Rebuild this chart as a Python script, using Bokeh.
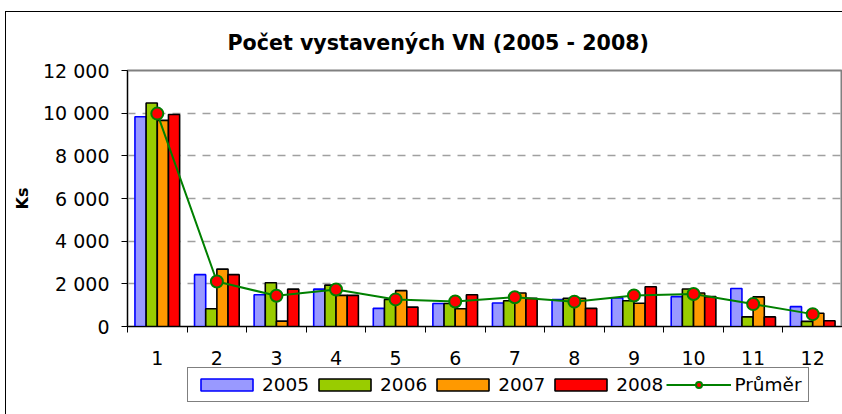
import numpy as np
from bokeh.plotting import figure
from bokeh.layouts import column
from bokeh.models import Range1d, FixedTicker, Legend, LegendItem, Title
from bokeh.embed import file_html
from bokeh.resources import INLINE

# ---- data ----
months = [1, 2, 3, 4, 5, 6, 7, 8, 9, 10, 11, 12]
v2005 = [9830, 2430, 1490, 1750, 850, 1080, 1100, 1260, 1340, 1400, 1780, 930]
v2006 = [10480, 830, 2050, 1940, 1270, 1080, 1210, 1320, 1210, 1760, 450, 240]
v2007 = [9660, 2690, 250, 1460, 1680, 830, 1570, 1320, 1090, 1570, 1390, 620]
v2008 = [9940, 2430, 1750, 1460, 910, 1490, 1320, 850, 1860, 1400, 450, 270]
prumer = [9980, 2110, 1440, 1735, 1270, 1170, 1370, 1165, 1450, 1525, 1050, 580]
series_names = ["2005", "2006", "2007", "2008"]
y_ticks = [0, 2000, 4000, 6000, 8000, 10000, 12000]
y_tick_labels = ["0", "2 000", "4 000", "6 000", "8 000", "10 000", "12 000"]
title_text = "Počet vystavených VN (2005 - 2008)"
y_label = "Ks"
mean_label = "Průměr"

FONT = "DejaVu Sans"

# ---- main chart ----
p = figure(frame_width=715, frame_height=256, x_range=Range1d(0.5, 12.5), y_range=Range1d(0, 12000),
           output_backend="svg", toolbar_location=None,
           min_border_left=121, min_border_right=0, min_border_top=57, min_border_bottom=40)

p.title = Title(text=title_text, align="left", offset=100, standoff=32,
                text_font=FONT, text_font_size="20.6px", text_font_style="bold",
                text_color="black")

p.outline_line_color = "#808080"
p.outline_line_width = 2

# x axis
xa = p.xaxis[0]
xa.ticker = FixedTicker(ticks=months, minor_ticks=[mm - 0.5 for mm in months] + [12.5])
xa.major_tick_line_color = None
xa.major_tick_out = 0
xa.major_tick_in = 0
xa.minor_tick_out = 6
xa.minor_tick_in = 0
xa.minor_tick_line_color = "black"
xa.axis_line_color = "black"
xa.major_label_standoff = 18
xa.major_label_text_font = FONT
xa.major_label_text_font_size = "19px"
xa.major_label_text_color = "black"

# y axis
ya = p.yaxis[0]
ya.ticker = FixedTicker(ticks=y_ticks)
ya.major_label_overrides = {tk: lb for tk, lb in zip(y_ticks, y_tick_labels)}
ya.major_tick_out = 6
ya.major_tick_in = 0
ya.minor_tick_line_color = None
ya.major_tick_line_color = "black"
ya.axis_line_color = "black"
ya.major_label_standoff = 12
ya.major_label_text_font = FONT
ya.major_label_text_font_size = "19px"
ya.major_label_text_color = "black"
ya.axis_label = y_label
ya.axis_label_text_font = FONT
ya.axis_label_text_font_size = "16px"
ya.axis_label_text_font_style = "bold"
ya.axis_label_text_color = "black"
ya.axis_label_standoff = 8

p.xgrid.visible = False
p.ygrid.ticker = FixedTicker(ticks=y_ticks[1:-1])
p.ygrid.grid_line_color = "#A0A0A0"
p.ygrid.grid_line_dash = "8 7"
p.ygrid.grid_line_width = 1.5

# bars
bw = 0.1875
offsets = [-1.5 * bw, -0.5 * bw, 0.5 * bw, 1.5 * bw]
fills = ["#9999FF", "#99CC00", "#FF9900", "#FF0000"]
lines = ["#0000FF", "black", "black", "black"]
series = [v2005, v2006, v2007, v2008]
m = np.array(months, dtype=float)
for vals, off, fc, lc in zip(series, offsets, fills, lines):
    p.vbar(x=m + off, top=vals, width=bw, bottom=0, fill_color=fc,
           line_color=lc, line_width=1.6)

p.line(months, prumer, line_color="#008000", line_width=2)
p.scatter(months, prumer, size=12, fill_color="#FF0000", line_color="#008000", line_width=2)

# ---- legend strip (same series, drawn outside its visible range; only the legend shows) ----
q = figure(frame_width=836, frame_height=49, x_range=Range1d(-100, -99), y_range=Range1d(-100, -99),
           output_backend="svg", toolbar_location=None,
           x_axis_location=None, y_axis_location=None,
           min_border_left=0, min_border_right=0, min_border_top=0, min_border_bottom=0)
q.grid.visible = False
q.outline_line_color = None
leg_renderers = []
for vals, fc, lc in zip(series, fills, lines):
    leg_renderers.append(q.vbar(x=months, top=vals, width=bw, fill_color=fc,
                                line_color=lc, line_width=1.6))
ql = q.line(months, prumer, line_color="#008000", line_width=2)
qs = q.scatter(months, prumer, size=12, fill_color="#FF0000", line_color="#008000", line_width=2)

items = [LegendItem(label=n, renderers=[r]) for n, r in zip(series_names, leg_renderers)]
items.append(LegendItem(label=mean_label, renderers=[ql, qs]))
legend = Legend(items=items, orientation="horizontal", location=(181, 14),
                glyph_width=65, glyph_height=15, label_standoff=3, spacing=3,
                padding=6, margin=0,
                border_line_color="black", border_line_width=1,
                label_text_font=FONT, label_text_font_size="18.5px",
                label_text_color="black")
q.add_layout(legend)

layout = column(p, q, spacing=0)
layout.styles = {"border-left": "1px solid black", "border-top": "1px solid black",
                 "margin-left": "5px", "margin-top": "11px"}

open("out.html", "w").write(file_html(layout, INLINE))
